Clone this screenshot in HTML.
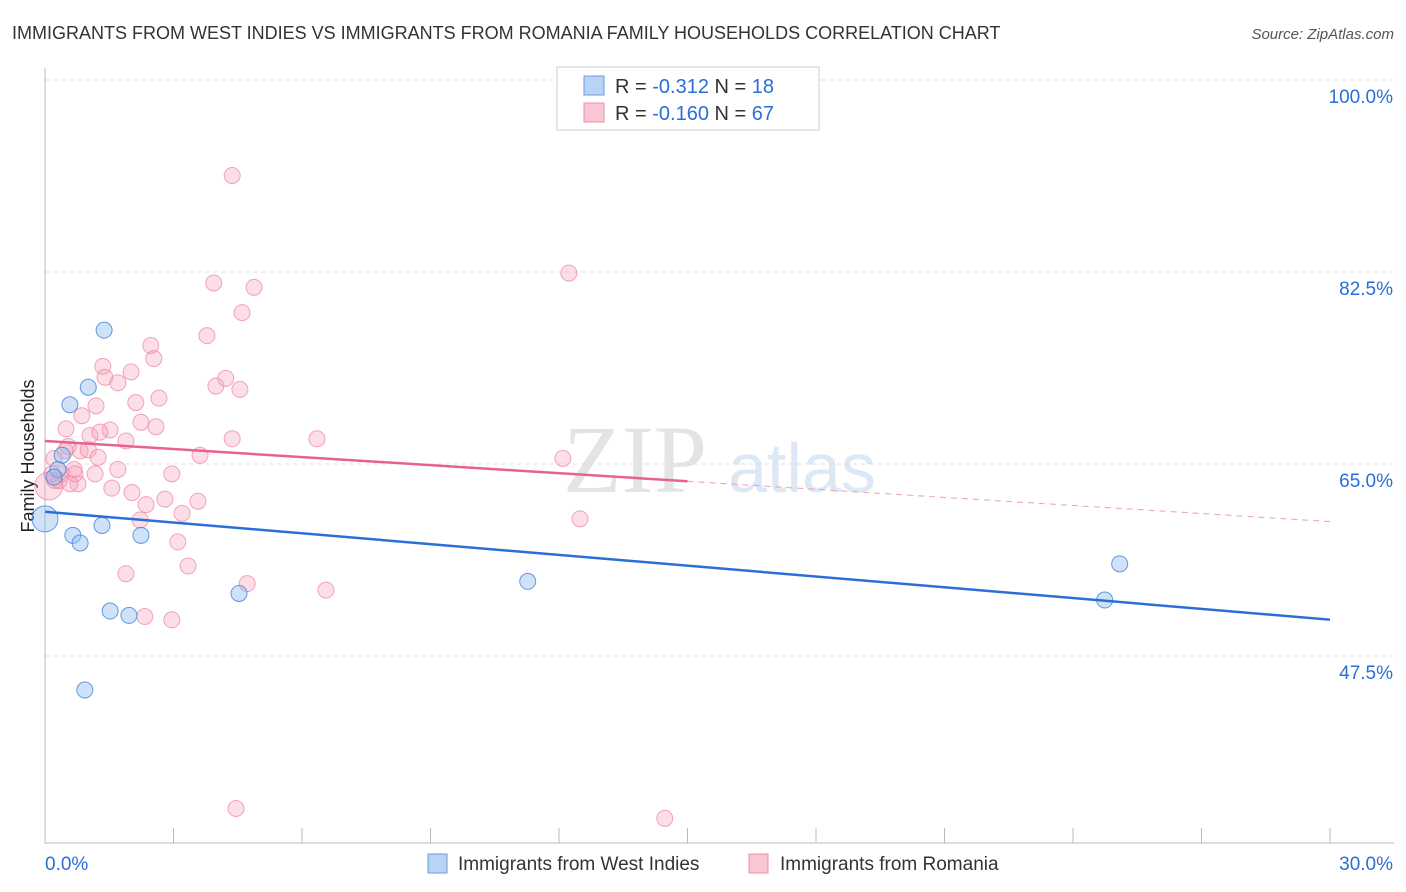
<!DOCTYPE html>
<html><head><meta charset="utf-8">
<style>
body{margin:0;background:#fff;font-family:"Liberation Sans",sans-serif;}
#wrap{position:relative;width:1406px;height:892px;overflow:hidden;}
</style></head>
<body>
<div id="wrap">
<svg id="svg" width="1406" height="892" xmlns="http://www.w3.org/2000/svg">
<text x="12" y="39" font-size="18" fill="#333">IMMIGRANTS FROM WEST INDIES VS IMMIGRANTS FROM ROMANIA FAMILY HOUSEHOLDS CORRELATION CHART</text>
<text x="1394" y="39" font-size="15" fill="#555" font-style="italic" text-anchor="end">Source: ZipAtlas.com</text>
<text x="34" y="456" font-size="18" fill="#222" text-anchor="middle" transform="rotate(-90 34 456)">Family Households</text>
<g><text x="635" y="492" font-size="96" fill="#e4e4e4" font-family="Liberation Serif,serif" text-anchor="middle">ZIP</text><text x="802" y="492" font-size="70" fill="#dce8f5" text-anchor="middle">atlas</text></g>
<g id="grid"></g><g id="marks"></g>
<g>
<rect x="557" y="67" width="262" height="63" fill="#fff" stroke="#ccc"/>
<rect x="584" y="76" width="20" height="19" fill="#b9d3f5" stroke="#6a9de0"/>
<rect x="584" y="103" width="20" height="19" fill="#f9c6d4" stroke="#ec8fab"/>
<text x="615" y="93" font-size="20" fill="#333">R = <tspan fill="#2a6fd6">-0.312</tspan>   N = <tspan fill="#2a6fd6">18</tspan></text>
<text x="615" y="120" font-size="20" fill="#333">R = <tspan fill="#2a6fd6">-0.160</tspan>   N = <tspan fill="#2a6fd6">67</tspan></text>
</g>
<g>
<rect x="428" y="854" width="19" height="19" fill="#b9d3f5" stroke="#6a9de0"/>
<text x="458" y="870" font-size="19" fill="#333">Immigrants from West Indies</text>
<rect x="749" y="854" width="19" height="19" fill="#f9c6d4" stroke="#ec8fab"/>
<text x="780" y="870" font-size="19" fill="#333">Immigrants from Romania</text>
</g>
</svg>
</div>
<script>
const yTicks=[100,82.5,65,47.5];
const xTickLabels=["0.0%","30.0%"];
const blueX=[1.38,1.01,0.58,0.40,0.30,0.0,1.33,0.65,0.82,2.24,1.52,1.96,4.53,0.93,11.27,25.09,24.74,0.21];
const blueY=[77.2,72.0,70.4,65.8,64.5,60.0,59.4,58.5,57.8,58.5,51.6,51.2,53.2,44.4,54.3,55.9,52.6,63.8];
const pinkX=[4.37,12.23,3.94,4.88,4.60,3.78,2.47,2.54,1.35,1.40,2.01,1.70,3.99,4.22,4.55,2.66,2.12,1.19,0.86,2.24,0.49,2.59,1.52,1.05,1.89,4.37,6.35,0.82,1.01,1.24,3.62,12.09,0.47,0.21,1.70,2.96,0.68,0.40,0.77,1.56,2.03,2.80,3.57,0.09,0.23,2.36,3.20,2.22,12.49,3.10,1.89,3.34,4.72,6.56,2.33,2.96,4.46,14.47,1.28,0.54,0.33,1.17,0.16,0.70,0.58];
const pinkY=[91.3,82.4,81.5,81.1,78.8,76.7,75.8,74.6,73.9,72.9,73.4,72.4,72.1,72.8,71.8,71.0,70.6,70.3,69.4,68.8,68.2,68.4,68.1,67.6,67.1,67.3,67.3,66.2,66.3,65.6,65.8,65.5,66.2,65.5,64.5,64.1,64.5,64.1,63.2,62.8,62.4,61.8,61.6,63.0,63.5,61.3,60.5,59.9,60.0,57.9,55.0,55.7,54.1,53.5,51.1,50.8,33.6,32.7,67.9,66.6,63.5,64.1,64.1,64.1,63.2];
const blueTrend=[60.65,-0.328]; // intercept, slope per %
const pinkTrend=[67.1,-0.245];
const pinkSolidEnd=15;
const X=v=>45+v/30*1285, Y=v=>80+(100-v)/17.5*192;
const NS="http://www.w3.org/2000/svg";
const grid=document.getElementById('grid'),marks=document.getElementById('marks');
function el(t,a,p){const e=document.createElementNS(NS,t);for(const k in a)e.setAttribute(k,a[k]);p.appendChild(e);return e;}
yTicks.forEach((t,i)=>{
 const g=el('line',{x1:45,x2:1394,y1:Y(t),y2:Y(t),stroke:'#ddd','stroke-dasharray':'4,4'},grid);
 
 
 const tx=el('text',{x:1393,y:Y(t)+23,'font-size':19,fill:'#2a6fd6','text-anchor':'end'},grid);tx.textContent=t.toFixed(1)+'%';
 
 
});
const ax=el('line',{x1:45,x2:45,y1:68,y2:843,stroke:'#bbb'},grid);


const bx=el('line',{x1:45,x2:1394,y1:843,y2:843,stroke:'#bbb'},grid);


for(let i=0;i<=10;i++){const t=el('line',{x1:X(i*3),x2:X(i*3),y1:828,y2:843,stroke:'#bbb'},grid);
 
 }
[[0,'start',45],[30,'end',1393]].forEach((d,i)=>{const t=el('text',{x:d[2],y:870,'font-size':19,fill:'#2a6fd6','text-anchor':d[1]},grid);t.textContent=xTickLabels[i];
 
 });
pinkX.forEach((x,i)=>{const c=el('circle',{cx:X(x),cy:Y(pinkY[i]),r:i==43?14:8,fill:'rgba(245,160,185,0.35)',stroke:'rgba(236,130,160,0.7)'},marks);
 
 });
blueX.forEach((x,i)=>{const c=el('circle',{cx:X(x),cy:Y(blueY[i]),r:i==5?13:8,fill:'rgba(150,190,240,0.45)',stroke:'rgba(60,130,220,0.8)'},marks);
 
 });
const tl=(tr,a,b,attrs,name)=>{const l=el('line',Object.assign({x1:X(a),y1:Y(tr[0]+tr[1]*a),x2:X(b),y2:Y(tr[0]+tr[1]*b)},attrs),marks);
 
 };
tl(blueTrend,0,30,{stroke:'#2a6fd6','stroke-width':2.5},'west-indies-trendline');
tl(pinkTrend,0,pinkSolidEnd,{stroke:'#e8628f','stroke-width':2.5},'romania-trendline');
tl(pinkTrend,pinkSolidEnd,30,{stroke:'#e8a0b8','stroke-width':1,'stroke-dasharray':'6,5'},'romania-trendline-extension');
</script>
</body></html>
